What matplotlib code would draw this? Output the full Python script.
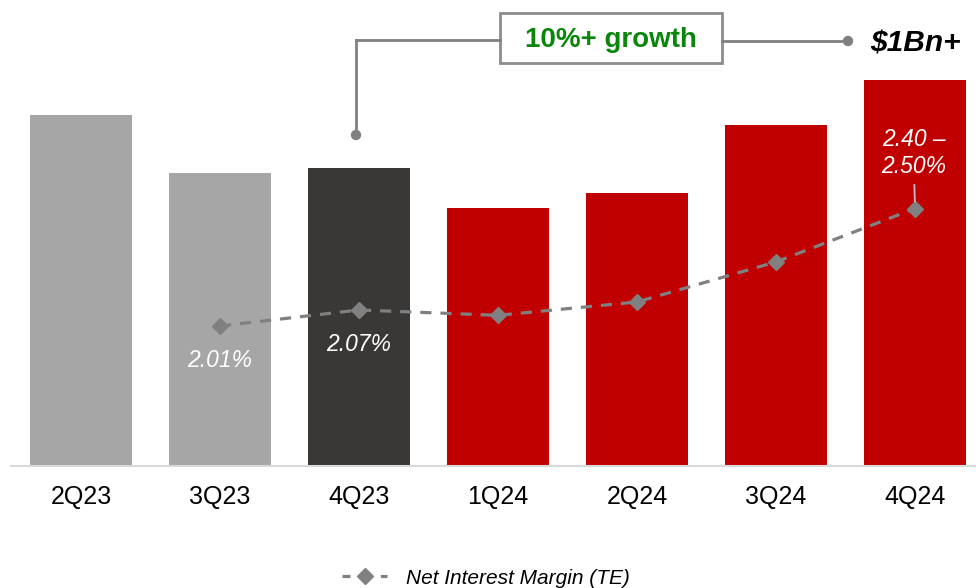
import matplotlib.pyplot as plt
from matplotlib.patches import Rectangle, Circle
from matplotlib.lines import Line2D

plt.rcParams['font.family'] = ['Liberation Sans', 'DejaVu Sans']

quarters = ['2Q23', '3Q23', '4Q23', '1Q24', '2Q24', '3Q24', '4Q24']
revenue = [909, 759, 772, 668, 707, 883, 1000]   # $M, 4Q24 = $1Bn+
bar_colors = ['#A6A6A6', '#A6A6A6', '#3A3836', '#C00000', '#C00000', '#C00000', '#C00000']
nim_quarters = [1, 2, 3, 4, 5, 6]
nim = [2.01, 2.07, 2.05, 2.10, 2.25, 2.45]
nim_labels = {1: '2.01%', 2: '2.07%'}
nim_range_label = '2.40 \u2013\n2.50%'

W, H = 976, 588
fig = plt.figure(figsize=(W / 100, H / 100), dpi=100)
base = 465.5
ax = fig.add_axes([11 / W, (H - base) / H, (W - 11) / W, base / H])

x = list(range(len(quarters)))
ax.bar(x, revenue, width=0.74, color=bar_colors, zorder=2)
ax.set_xlim((11 - 81) / 139, (W - 81) / 139)
ax.set_ylim(0, base / 386 * 1000)
ax.set_xticks(x)
ax.set_xticklabels(quarters, fontsize=18)
ax.tick_params(axis='x', length=0, pad=14)
ax.set_yticks([])
for s in ['top', 'right', 'left']:
    ax.spines[s].set_visible(False)
ax.spines['bottom'].set_color('#D9D9D9')
ax.spines['bottom'].set_linewidth(1.5)

# NIM on its own scale
ax2 = ax.twinx()
low = 2.01 - (base - 326) / 267
ax2.set_ylim(low, low + base / 267)
ax2.set_yticks([])
for s in ax2.spines.values():
    s.set_visible(False)
ax2.plot(nim_quarters, nim, color='#808080', lw=2.3, ls=(0, (3.5, 2.8)),
         marker='D', markersize=8, markerfacecolor='#808080', markeredgecolor='#808080',
         zorder=3)

for i, txt in nim_labels.items():
    ax2.annotate(txt, (nim_quarters[i - 1], nim[i - 1]), xytext=(0, -25),
                 textcoords='offset points', ha='center', va='center',
                 fontsize=16.5, style='italic', color='white')

ax2.annotate(nim_range_label, (nim_quarters[-1], nim[-1]), xytext=(-1, 40),
             textcoords='offset points', ha='center', va='center',
             fontsize=16.5, style='italic', color='white', linespacing=1.2,
             arrowprops=dict(arrowstyle='-', color='#BFBFBF', lw=1.3,
                             shrinkA=3, shrinkB=5))


def fx(px):
    return px / W


def fy(py):
    return 1 - py / H


# growth callout
line_kw = dict(color='#808080', lw=2, transform=fig.transFigure)
fig.add_artist(Line2D([fx(356), fx(500)], [fy(40), fy(40)], **line_kw))
fig.add_artist(Line2D([fx(356), fx(356)], [fy(40), fy(135)], **line_kw))
fig.add_artist(Line2D([fx(722), fx(848)], [fy(41), fy(41)], **line_kw))
for cx, cy in [(356, 135), (848, 41)]:
    fig.add_artist(Circle((cx, H - cy), 4.5, color='#808080', transform=None))
fig.add_artist(Rectangle((fx(500), fy(63)), fx(222), 50 / H, transform=fig.transFigure,
                         facecolor='white', edgecolor='#8C8C8C', lw=2))
fig.text(fx(611), fy(40), '10%+ growth', ha='center', va='center',
         fontsize=20, fontweight='bold', color='#0A870A')
fig.text(fx(870), fy(44), '$1Bn+', ha='left', va='center',
         fontsize=21.5, fontweight='bold', style='italic', color='black')

handle = Line2D([], [], color='#808080', lw=2.3, ls=(0, (2.5, 3.5)), marker='D',
                markersize=8, markerfacecolor='#808080', markeredgecolor='#808080')
fig.legend([handle], ['Net Interest Margin (TE)'], loc='center',
           bbox_to_anchor=(fx(486), fy(578)), frameon=False,
           prop=dict(size=15, style='italic'), handlelength=2.15, handletextpad=0.9)

fig.savefig('out.png', dpi=100)
